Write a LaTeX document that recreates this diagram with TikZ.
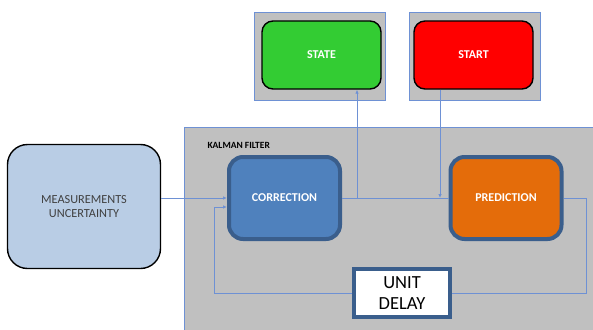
\documentclass[tikz,border=0pt]{standalone}
\usepackage{fontspec}
\setmainfont{Carlito}
\usetikzlibrary{arrows.meta}
\definecolor{bggray}{RGB}{192,192,192}
\definecolor{lnblue}{RGB}{110,145,212}
\definecolor{dkblue}{RGB}{58,94,140}
\definecolor{corrblue}{RGB}{79,129,189}
\definecolor{predorange}{RGB}{228,108,10}
\definecolor{measblue}{RGB}{185,205,229}
\definecolor{stgreen}{RGB}{51,204,51}
\definecolor{txtgray}{RGB}{64,64,64}
\tikzset{
  conn/.style={draw=lnblue, line width=0.8pt},
  arr/.style={-{Latex[length=4pt,width=3.5pt]}},
  kbox/.style={rectangle, rounded corners=14pt, draw=dkblue, line width=4pt,
     minimum width=111pt, minimum height=82pt, inner sep=0pt,
     text=white, font=\bfseries\fontsize{12}{14}\selectfont},
  sbox/.style={rectangle, rounded corners=11pt, draw=black, line width=1.4pt,
     minimum width=119pt, minimum height=68pt, inner sep=0pt,
     text=white, font=\bfseries\fontsize{12}{14}\selectfont},
  gbox/.style={rectangle, fill=bggray, draw=lnblue, line width=0.7pt,
     minimum width=131pt, minimum height=88pt, inner sep=0pt},
}
\begin{document}
\begin{tikzpicture}[x=1pt,y=-1pt]
\useasboundingbox (0,0) rectangle (593,329);
% Kalman filter background
\node[rectangle, fill=bggray, draw=lnblue, line width=0.7pt, anchor=north west,
      minimum width=420pt, minimum height=210pt, inner sep=0pt] (kf) at (184,127) {};
\node[anchor=west, font=\bfseries\fontsize{9.5}{11}\selectfont] (kflabel) at (204,145) {KALMAN FILTER};
% top boxes
\node[gbox] (stateout) at (320,56) {};
\node[gbox] (startout) at (474.5,56) {};
\node[sbox, fill=stgreen] (state) at (321.5,55) {STATE};
\node[sbox, fill=red] (start) at (473.5,55) {START};
% measurements
\node[rectangle, rounded corners=20pt, draw=black, line width=1.4pt, fill=measblue,
      minimum width=153pt, minimum height=124pt, inner sep=0pt, align=center,
      text=txtgray, font=\fontsize{12.3}{14.5}\selectfont] (meas) at (84,206.5) {MEASUREMENTS\\UNCERTAINTY};
% filter blocks
\node[kbox, fill=corrblue] (corr) at (284.5,198) {CORRECTION};
\node[kbox, fill=predorange] (pred) at (506,198) {PREDICTION};
\node[rectangle, draw=dkblue, line width=4pt, fill=white, minimum width=96pt,
      minimum height=48pt, inner sep=0pt, align=center,
      font=\fontsize{18.5}{21}\selectfont] (delay) at (402,293) {UNIT\\DELAY};
% junction coordinates
\coordinate (jstate) at (357,198);
\coordinate (jstart) at (440,198);
\coordinate (cR) at (586,198);
\coordinate (cL) at (214,207);
% connectors
\draw[conn,arr] (meas.east |- corr.west) -- (corr.west);
\draw[conn] (corr.east) -- (pred.west);
\draw[conn,arr] (jstate) -- (jstate |- state.south);
\draw[conn,arr] (jstart |- start.south) -- (jstart);
\draw[conn] (pred.east) -- (cR) |- (delay.east);
\draw[conn,arr] (delay.west) -| (cL) -- (corr.west |- cL);
\end{tikzpicture}
\end{document}
